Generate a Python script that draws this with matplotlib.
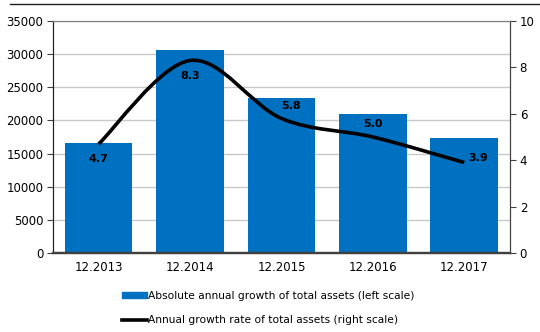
import matplotlib.pyplot as plt
from matplotlib.path import Path
from matplotlib.patches import PathPatch, Patch
from matplotlib.lines import Line2D

# data
periods = ["12.2013", "12.2014", "12.2015", "12.2016", "12.2017"]
abs_growth = [16600, 30700, 23400, 21000, 17300]
growth_rate = [4.7, 8.3, 5.8, 5.0, 3.9]

BLUE = "#0070C0"
plt.rcParams['font.family'] = ['DejaVu Sans']

fig = plt.figure(figsize=(5.4, 3.32), dpi=100)
ax = fig.add_axes([0.0981, 0.238, 0.8463, 0.6987])
ax2 = ax.twinx()

x = list(range(len(periods)))
ax.bar(x, abs_growth, width=0.74, color=BLUE, zorder=2)
ax.set_xlim(-0.5, len(periods) - 0.5)
ax.set_ylim(0, 35000)
ax.set_yticks(range(0, 35001, 5000))
ax.set_xticks(x)
ax.set_xticklabels(periods)
ax.yaxis.grid(True, color="#c8c8c8", linewidth=1.0, zorder=0)
ax.set_axisbelow(True)

ax2.set_ylim(0, 10)
ax2.set_yticks(range(0, 11, 2))

# smoothed line (cubic bezier through the points, excel style)
pts = list(zip(x, growth_rate))
n = len(pts)
verts = [pts[0]]
codes = [Path.MOVETO]
for i in range(n - 1):
    p0 = pts[max(i - 1, 0)]
    p1 = pts[i]
    p2 = pts[i + 1]
    p3 = pts[min(i + 2, n - 1)]
    c1 = (p1[0] + (p2[0] - p0[0]) / 6, p1[1] + (p2[1] - p0[1]) / 6)
    c2 = (p2[0] - (p3[0] - p1[0]) / 6, p2[1] - (p3[1] - p1[1]) / 6)
    verts += [c1, c2, p2]
    codes += [Path.CURVE4] * 3
ax2.add_patch(PathPatch(Path(verts, codes), fill=False, edgecolor="black",
                        linewidth=2.6, capstyle="butt", zorder=3))

# value labels
offsets = [(0, -11), (0, -11), (7, 9), (0, 9), (10, 3)]
for xi, v, off in zip(x, growth_rate, offsets):
    ax2.annotate(f"{v:.1f}", (xi, v), xytext=off, textcoords="offset points",
                 ha="center", va="center", fontsize=8, fontweight="bold")

# axis styling
for a in (ax, ax2):
    a.spines["top"].set_color("#808080")
    a.spines["left"].set_color("#202020")
    a.spines["right"].set_color("#404040")
    a.spines["bottom"].set_color("#404040")
    a.spines["bottom"].set_linewidth(1.6)
ax.tick_params(axis="y", labelsize=8.5, length=4, color="#404040", pad=3)
ax.tick_params(axis="x", labelsize=8.5, length=0, pad=6)
ax2.tick_params(axis="y", labelsize=8.5, length=4, color="#404040", pad=3)

handles = [Patch(facecolor=BLUE, edgecolor=BLUE),
           Line2D([0], [0], color="black", linewidth=2.6)]
labels = ["Absolute annual growth of total assets (left scale)",
          "Annual growth rate of total assets (right scale)"]
fig.legend(handles, labels, loc="upper left", bbox_to_anchor=(0.218, 0.137),
           frameon=False, fontsize=7.7, handlelength=2.3, handleheight=0.55,
           handletextpad=0.1, labelspacing=1.35, borderaxespad=0)

# rule at the top of the figure
fig.add_artist(Line2D([0.018, 1.0], [0.988, 0.988], color="#202020",
                      linewidth=1.0, transform=fig.transFigure))

fig.savefig("out.png", dpi=100)
